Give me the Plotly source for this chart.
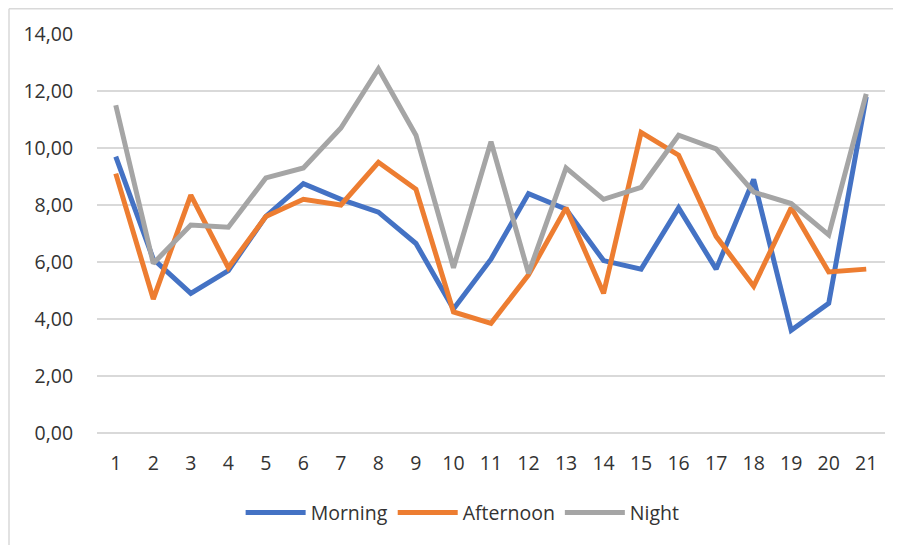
import plotly.graph_objects as go

categories = [str(i) for i in range(1, 22)]
morning = [9.7, 6.1, 4.9, 5.7, 7.6, 8.75, 8.2, 7.75, 6.65, 4.35, 6.1, 8.4, 7.85, 6.05, 5.75, 7.9, 5.75, 8.9, 3.6, 4.55, 11.8]
afternoon = [9.1, 4.7, 8.35, 5.8, 7.6, 8.2, 8.0, 9.5, 8.55, 4.25, 3.85, 5.55, 7.9, 4.9, 10.55, 9.75, 6.9, 5.15, 7.9, 5.65, 5.75]
night = [11.5, 5.95, 7.3, 7.22, 8.95, 9.3, 10.7, 12.78, 10.45, 5.8, 10.22, 5.6, 9.3, 8.2, 8.62, 10.45, 9.97, 8.45, 8.05, 6.95, 11.9]
y_ticks = [0, 2, 4, 6, 8, 10, 12, 14]
y_tick_labels = ["0,00", "2,00", "4,00", "6,00", "8,00", "10,00", "12,00", "14,00"]

series = [("Morning", morning, "#4472C4"), ("Afternoon", afternoon, "#ED7D31"), ("Night", night, "#A5A5A5")]

fig = go.Figure()
for name, vals, color in series:
    fig.add_trace(go.Scatter(x=categories, y=vals, name=name, mode="lines",
                             line=dict(color=color, width=5)))

PW, PH = 788, 399
L, T = 89, 26
font_family = "Open Sans"
text_color = "#333333"
fig.update_layout(
    width=901, height=545,
    margin=dict(l=L, r=901 - L - PW, t=T, b=545 - T - PH, autoexpand=False),
    paper_bgcolor="white", plot_bgcolor="white",
    font=dict(family=font_family, size=19, color=text_color),
    showlegend=True,
    legend=dict(orientation="h", x=0.464, xanchor="center", y=-0.2, yanchor="middle",
                font=dict(size=19.5, color=text_color), tracegroupgap=0, itemwidth=60),
    xaxis=dict(type="category", range=[-0.5, len(categories) - 0.5], automargin=False,
               showgrid=False, showline=False, zeroline=False,
               ticks="outside", ticklen=13, tickcolor="rgba(0,0,0,0)",
               tickfont=dict(size=19.5, color=text_color)),
    yaxis=dict(range=[0, 14], tickvals=y_ticks, ticktext=y_tick_labels, automargin=False,
               showgrid=True, gridcolor="#D9D9D9", gridwidth=1.5,
               zeroline=True, zerolinecolor="#D9D9D9", zerolinewidth=1.5,
               showline=False, ticks="outside", ticklen=19, tickcolor="rgba(0,0,0,0)",
               tickfont=dict(size=19.5, color=text_color)),
    shapes=[
        dict(type="line", xref="paper", yref="paper", x0=(1 - L) / PW, x1=1.2,
             y0=(T + PH - 0.75) / PH, y1=(T + PH - 0.75) / PH,
             line=dict(color="#D9D9D9", width=1.5)),
        dict(type="line", xref="paper", yref="paper", x0=(1 - L) / PW, x1=(1 - L) / PW,
             y0=(T + PH - 0.75) / PH, y1=-0.4,
             line=dict(color="#D9D9D9", width=1.5)),
    ],
)

fig.write_html("out.html")
